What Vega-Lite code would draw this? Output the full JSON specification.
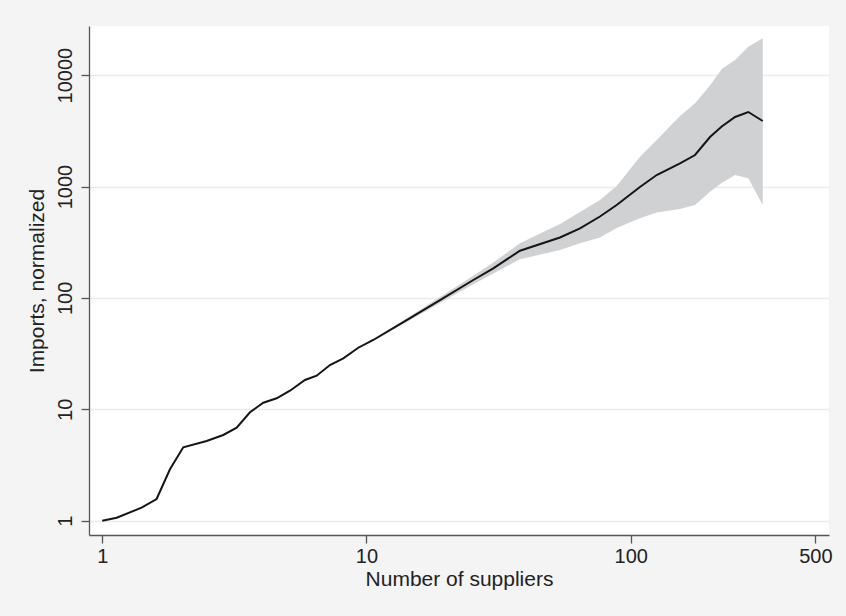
{
  "$schema": "https://vega.github.io/schema/vega-lite/v6.json",
  "width": 740,
  "height": 509,
  "autosize": {"type": "none"},
  "padding": {"left": 89, "top": 26, "right": 17, "bottom": 81},
  "background": "#f4f4f4",
  "config": {
    "view": {"fill": "#ffffff", "stroke": null},
    "font": "Liberation Sans, Arial, Helvetica, sans-serif"
  },
  "data": {
    "values": [
      {"suppliers": 1, "imports": 1, "upper": 1.005, "lower": 0.995},
      {"suppliers": 1.134, "imports": 1.064, "upper": 1.069, "lower": 1.059},
      {"suppliers": 1.409, "imports": 1.308, "upper": 1.315, "lower": 1.301},
      {"suppliers": 1.606, "imports": 1.566, "upper": 1.574, "lower": 1.558},
      {"suppliers": 1.804, "imports": 2.893, "upper": 2.907, "lower": 2.879},
      {"suppliers": 2.026, "imports": 4.559, "upper": 4.582, "lower": 4.536},
      {"suppliers": 2.484, "imports": 5.193, "upper": 5.219, "lower": 5.167},
      {"suppliers": 2.871, "imports": 5.879, "upper": 5.908, "lower": 5.85},
      {"suppliers": 3.227, "imports": 6.836, "upper": 6.87, "lower": 6.802},
      {"suppliers": 3.623, "imports": 9.4, "upper": 9.447, "lower": 9.353},
      {"suppliers": 4.069, "imports": 11.46, "upper": 11.57, "lower": 11.35},
      {"suppliers": 4.572, "imports": 12.55, "upper": 12.68, "lower": 12.43},
      {"suppliers": 5.134, "imports": 14.69, "upper": 14.84, "lower": 14.54},
      {"suppliers": 5.851, "imports": 18.33, "upper": 18.51, "lower": 18.15},
      {"suppliers": 6.479, "imports": 20.03, "upper": 20.23, "lower": 19.83},
      {"suppliers": 7.275, "imports": 24.99, "upper": 25.24, "lower": 24.74},
      {"suppliers": 8.173, "imports": 28.7, "upper": 28.99, "lower": 28.41},
      {"suppliers": 9.31, "imports": 35.7, "upper": 36.06, "lower": 35.34},
      {"suppliers": 10.61, "imports": 41.9, "upper": 42.7, "lower": 41.1},
      {"suppliers": 14.2, "imports": 63.3, "upper": 65.8, "lower": 60.9},
      {"suppliers": 18.98, "imports": 95.7, "upper": 101.9, "lower": 89.9},
      {"suppliers": 25.37, "imports": 144.8, "upper": 157.8, "lower": 132.8},
      {"suppliers": 30.2, "imports": 184.4, "upper": 208, "lower": 166},
      {"suppliers": 38.1, "imports": 265.3, "upper": 309, "lower": 222},
      {"suppliers": 54.0, "imports": 348.5, "upper": 460.7, "lower": 269},
      {"suppliers": 64.3, "imports": 421.5, "upper": 590, "lower": 309},
      {"suppliers": 76.5, "imports": 538, "upper": 756, "lower": 348.5},
      {"suppliers": 88.5, "imports": 682, "upper": 1010, "lower": 424},
      {"suppliers": 108.4, "imports": 990, "upper": 1852, "lower": 518},
      {"suppliers": 125.4, "imports": 1269, "upper": 2615, "lower": 584},
      {"suppliers": 153.7, "imports": 1616, "upper": 4295, "lower": 628},
      {"suppliers": 175.2, "imports": 1918, "upper": 5583, "lower": 682},
      {"suppliers": 199.6, "imports": 2782, "upper": 8066, "lower": 898},
      {"suppliers": 221.1, "imports": 3456, "upper": 11345, "lower": 1075},
      {"suppliers": 248.3, "imports": 4206, "upper": 13660, "lower": 1269},
      {"suppliers": 278.7, "imports": 4666, "upper": 17985, "lower": 1185},
      {"suppliers": 316, "imports": 3873, "upper": 21393, "lower": 682}
    ]
  },
  "encoding": {
    "x": {
      "field": "suppliers",
      "type": "quantitative",
      "scale": {"type": "log", "domain": [0.891, 563], "nice": false},
      "axis": {
        "title": "Number of suppliers",
        "values": [1, 10, 100, 500],
        "format": "d",
        "grid": false,
        "domainColor": "#555555",
        "domainWidth": 1.3,
        "tickColor": "#555555",
        "tickWidth": 1.3,
        "tickSize": 8,
        "labelFontSize": 20,
        "labelColor": "#222222",
        "labelPadding": 3,
        "titleFontSize": 21,
        "titleFontWeight": "normal",
        "titleColor": "#222222",
        "titlePadding": 2
      }
    }
  },
  "layer": [
    {
      "mark": {"type": "area", "color": "#d0d1d3", "opacity": 1},
      "encoding": {
        "y": {
          "field": "upper",
          "type": "quantitative",
          "scale": {"type": "log", "domain": [0.744, 27600], "nice": false},
          "axis": {
            "title": "Imports, normalized",
            "values": [1, 10, 100, 1000, 10000],
            "format": "d",
            "grid": true,
            "gridColor": "#ebebeb",
            "gridWidth": 1.5,
            "domainColor": "#555555",
            "domainWidth": 1.3,
            "tickColor": "#555555",
            "tickWidth": 1.3,
            "tickSize": 8,
            "labelAngle": -90,
            "labelAlign": "center",
            "labelBaseline": "alphabetic",
            "labelFontSize": 20,
            "labelColor": "#222222",
            "labelPadding": 10,
            "titleFontSize": 21,
            "titleFontWeight": "normal",
            "titleColor": "#222222",
            "titlePadding": 8
          }
        },
        "y2": {"field": "lower"}
      }
    },
    {
      "mark": {"type": "line", "color": "#151515", "strokeWidth": 2},
      "encoding": {
        "y": {
          "field": "imports",
          "type": "quantitative",
          "scale": {"type": "log", "domain": [0.744, 27600], "nice": false},
          "axis": {
            "title": "Imports, normalized",
            "values": [1, 10, 100, 1000, 10000],
            "format": "d",
            "grid": true,
            "gridColor": "#ebebeb",
            "gridWidth": 1.5,
            "domainColor": "#555555",
            "domainWidth": 1.3,
            "tickColor": "#555555",
            "tickWidth": 1.3,
            "tickSize": 8,
            "labelAngle": -90,
            "labelAlign": "center",
            "labelBaseline": "alphabetic",
            "labelFontSize": 20,
            "labelColor": "#222222",
            "labelPadding": 10,
            "titleFontSize": 21,
            "titleFontWeight": "normal",
            "titleColor": "#222222",
            "titlePadding": 8
          }
        }
      }
    }
  ]
}
